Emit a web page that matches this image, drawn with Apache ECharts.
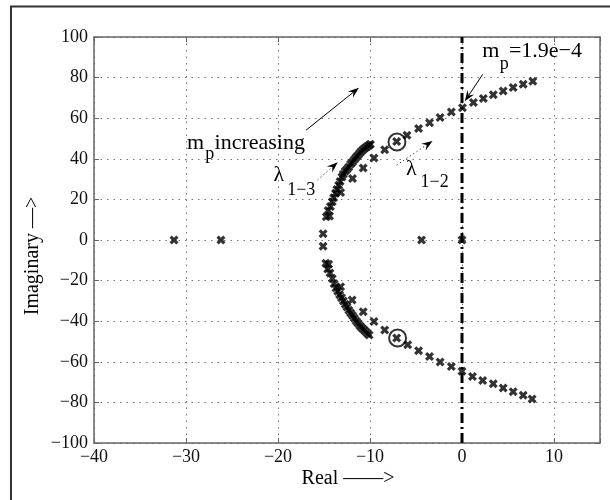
<!DOCTYPE html>
<html>
<head>
<meta charset="utf-8">
<script src="https://cdn.jsdelivr.net/npm/echarts@6/dist/echarts.min.js"></script>
<style>
  html, body { margin: 0; padding: 0; background: #fff; }
  #chart { width: 610px; height: 500px; }
</style>
</head>
<body>
<div id="chart"></div>
<script>
// roots on the real axis
const realRe = [-31.3, -26.2, -15.1, -15.1, -4.4, 0.0]
const realIm = [0, 0, 3.1, -3.1, 0, 0]

// lambda 1-2 branch, upper and lower
const re12Up = [7.7, 6.65, 5.56, 4.48, 3.4, 2.32, 1.24, 0.05, -1.16, -2.38, -3.53, -4.72, -5.98, -7.1, -8.4, -9.57, -10.74, -11.9, -13.19]
const im12Up = [78.2, 76.7, 75.1, 73.4, 71.6, 69.7, 67.7, 65.2, 63.1, 60.3, 57.7, 54.9, 51.6, 48.5, 44.5, 40.4, 35.5, 30.3, 23.4]
const re12Lo = [7.62, 6.65, 5.56, 4.48, 3.4, 2.25, 1.14, 0.0, -1.16, -2.38, -3.53, -4.72, -5.9, -7.1, -8.4, -9.57, -10.74, -11.94, -13.2]
const im12Lo = [-78.3, -76.5, -74.7, -72.9, -70.8, -69.2, -67.2, -64.7, -62.3, -60.1, -57.4, -54.6, -51.6, -48.3, -44.3, -40.2, -35.3, -29.5, -23.0]

// lambda 1-3 branch (dense), upper and lower
const re13Up = [-14.75, -14.4, -14.55, -14.3, -14.1, -13.95, -13.75, -13.6, -13.4, -13.25, -13.05, -12.9, -12.7, -12.5, -12.3, -12.1, -11.9, -11.7, -11.5, -11.3, -11.1, -10.9, -10.7, -10.5, -10.3, -10.1, -9.95]
const im13Up = [11.5, 11.8, 14.5, 16.5, 18.8, 20.8, 23.0, 24.9, 27.0, 28.8, 31.0, 32.4, 33.9, 34.9, 36.0, 37.4, 38.4, 39.6, 40.8, 41.8, 42.9, 43.9, 44.7, 45.4, 46.1, 46.7, 47.2]
const re13Lo = [-14.8, -14.5, -14.6, -14.35, -14.1, -13.9, -13.7, -13.5, -13.3, -13.1, -12.9, -12.7, -12.5, -12.3, -12.1, -11.9, -11.7, -11.5, -11.3, -11.1, -10.9, -10.7, -10.5, -10.3, -10.1]
const im13Lo = [-11.5, -12.0, -14.3, -16.2, -19.0, -21.5, -23.6, -25.3, -27.0, -28.5, -30.0, -31.6, -33.0, -34.6, -35.9, -37.2, -38.6, -39.9, -41.0, -42.2, -43.2, -44.1, -45.0, -45.9, -46.8]

// circled roots
const circRe = [-7.07, -7.0]
const circIm = [48.3, -48.3]

// stability boundary (Re = 0)
const boundary = [[0, -100], [0, 100]]

const serif = '"Liberation Serif", "DejaVu Serif", serif'
const cross = 'path://M0,2.5L2.5,0L5,2.5L7.5,0L10,2.5L7.5,5L10,7.5L7.5,10L5,7.5L2.5,10L0,7.5L2.5,5Z'
const minus = v => (v === 15 ? '' : String(v).replace('-', '\u2212'))

const chart = echarts.init(document.getElementById('chart'))

function roots(re, im) {
  return {
    type: 'scatter',
    symbol: cross,
    symbolSize: 9,
    silent: true,
    z: 4,
    itemStyle: { color: '#000' },
    data: re.map((x, i) => [x, im[i]]),
  }
}

const option = {
  animation: false,
  backgroundColor: '#fff',
  grid: { left: 94, right: 10, top: 37, bottom: 57, containLabel: false, outerBoundsMode: 'none' },
  xAxis: [{
    type: 'value', min: -40, max: 15, interval: 10, position: 'bottom',
    axisLine: { show: true, onZero: false, lineStyle: { color: '#666', width: 1.5 } },
    axisTick: { show: true, inside: true, length: 5, lineStyle: { color: '#666' } },
    axisLabel: { formatter: minus, color: '#111', fontFamily: serif, fontSize: 18, margin: 5 },
    splitLine: { show: true, lineStyle: { color: '#777', width: 1, type: [1.5, 5] } },
  }, {
    type: 'value', min: -40, max: 15, interval: 10, position: 'top',
    axisLine: { show: true, onZero: false, lineStyle: { color: '#666', width: 1.5 } },
    axisTick: { show: true, inside: true, length: 5, lineStyle: { color: '#666' } },
    axisLabel: { show: false },
    splitLine: { show: false },
  }],
  yAxis: [{
    type: 'value', min: -100, max: 100, interval: 20, position: 'left',
    axisLine: { show: true, onZero: false, lineStyle: { color: '#666', width: 1.5 } },
    axisTick: { show: true, inside: true, length: 5, lineStyle: { color: '#666' } },
    axisLabel: { formatter: minus, color: '#111', fontFamily: serif, fontSize: 18, margin: 6 },
    splitLine: { show: true, lineStyle: { color: '#777', width: 1, type: [1.5, 5] } },
  }, {
    type: 'value', min: -100, max: 100, interval: 20, position: 'right',
    axisLine: { show: true, onZero: false, lineStyle: { color: '#666', width: 1.5 } },
    axisTick: { show: true, inside: true, length: 5, lineStyle: { color: '#666' } },
    axisLabel: { show: false },
    splitLine: { show: false },
  }],
  series: [
    {
      type: 'line',
      data: boundary,
      symbol: 'none',
      silent: true,
      z: 3,
      lineStyle: { color: '#000', width: 3, type: [10, 4, 2, 4] },
    },
    roots(realRe, realIm),
    roots(re12Up, im12Up),
    roots(re12Lo, im12Lo),
    roots(re13Up, im13Up),
    roots(re13Lo, im13Lo),
    {
      type: 'scatter',
      symbol: 'circle',
      symbolSize: 17,
      silent: true,
      z: 5,
      itemStyle: { color: 'rgba(0,0,0,0)', borderColor: '#000', borderWidth: 2 },
      data: circRe.map((x, i) => [x, circIm[i]]),
    },
  ],
}

chart.setOption(option)

const px = at => chart.convertToPixel({ gridIndex: 0 }, at)

// annotations anchored in data coordinates (left edge, baseline)
const notes = [
  { text: 'm', at: [-29.9, 44.2], size: 22 },
  { text: 'p', at: [-27.9, 39.0], size: 18 },
  { text: 'increasing', at: [-26.9, 44.2], size: 22 },
  { text: '\u03bb', at: [-20.5, 28.0], size: 22 },
  { text: '1\u22123', at: [-19.0, 21.4], size: 18 },
  { text: '\u03bb', at: [-6.1, 31.0], size: 22 },
  { text: '1\u22122', at: [-4.5, 25.4], size: 18 },
  { text: 'm', at: [2.2, 89.5], size: 22 },
  { text: 'p', at: [4.1, 83.4], size: 18 },
  { text: '=1.9e\u22124', at: [5.1, 89.5], size: 22 },
]

// arrows: tail, head, dotted stem
const arrows = [
  { from: [-16.95, 54.1], to: [-11.2, 75], dotted: false },
  { from: [-15.7, 29.6], to: [-13.5, 38.3], dotted: true },
  { from: [-7.1, 36.9], to: [-3.2, 48.8], dotted: true },
  { from: [2.25, 81.6], to: [0.3, 68.3], dotted: false },
]

const graphic = notes.map(n => {
  const p = px(n.at)
  return {
    type: 'text', x: p[0], y: p[1] - 0.34 * n.size, silent: true, z: 10,
    style: { text: n.text, fill: '#000', fontFamily: serif, fontSize: n.size, align: 'left', verticalAlign: 'middle' },
  }
})

arrows.forEach(a => {
  const s = px(a.from)
  const e = px(a.to)
  const ang = Math.atan2(e[1] - s[1], e[0] - s[0])
  const L = 11
  const W = 4
  const ux = Math.cos(ang)
  const uy = Math.sin(ang)
  const bx = e[0] - ux * L
  const by = e[1] - uy * L
  const nx = e[0] - ux * L * 0.65
  const ny = e[1] - uy * L * 0.65
  graphic.push({
    type: 'line', silent: true, z: 9,
    shape: { x1: s[0], y1: s[1], x2: nx, y2: ny },
    style: { stroke: '#000', lineWidth: 1, lineDash: a.dotted ? [1, 3] : null },
  })
  graphic.push({
    type: 'polygon', silent: true, z: 9,
    shape: { points: [e, [bx - uy * W, by + ux * W], [nx, ny], [bx + uy * W, by - ux * W]] },
    style: { fill: '#000' },
  })
})

graphic.push({
  type: 'text', x: 348, y: 479, silent: true,
  style: { text: 'Real \u2014\u2014>', fill: '#000', fontFamily: serif, fontSize: 20, align: 'center', verticalAlign: 'middle' },
})
graphic.push({
  type: 'text', x: 33, y: 256, rotation: Math.PI / 2, silent: true,
  style: { text: 'Imaginary \u2014>', fill: '#000', fontFamily: serif, fontSize: 20, align: 'center', verticalAlign: 'middle' },
})
graphic.push({
  type: 'rect', silent: true,
  shape: { x: 11, y: 6.5, width: 620, height: 520 },
  style: { fill: 'none', stroke: '#333', lineWidth: 2 },
})

chart.setOption({ graphic })
</script>
</body>
</html>
